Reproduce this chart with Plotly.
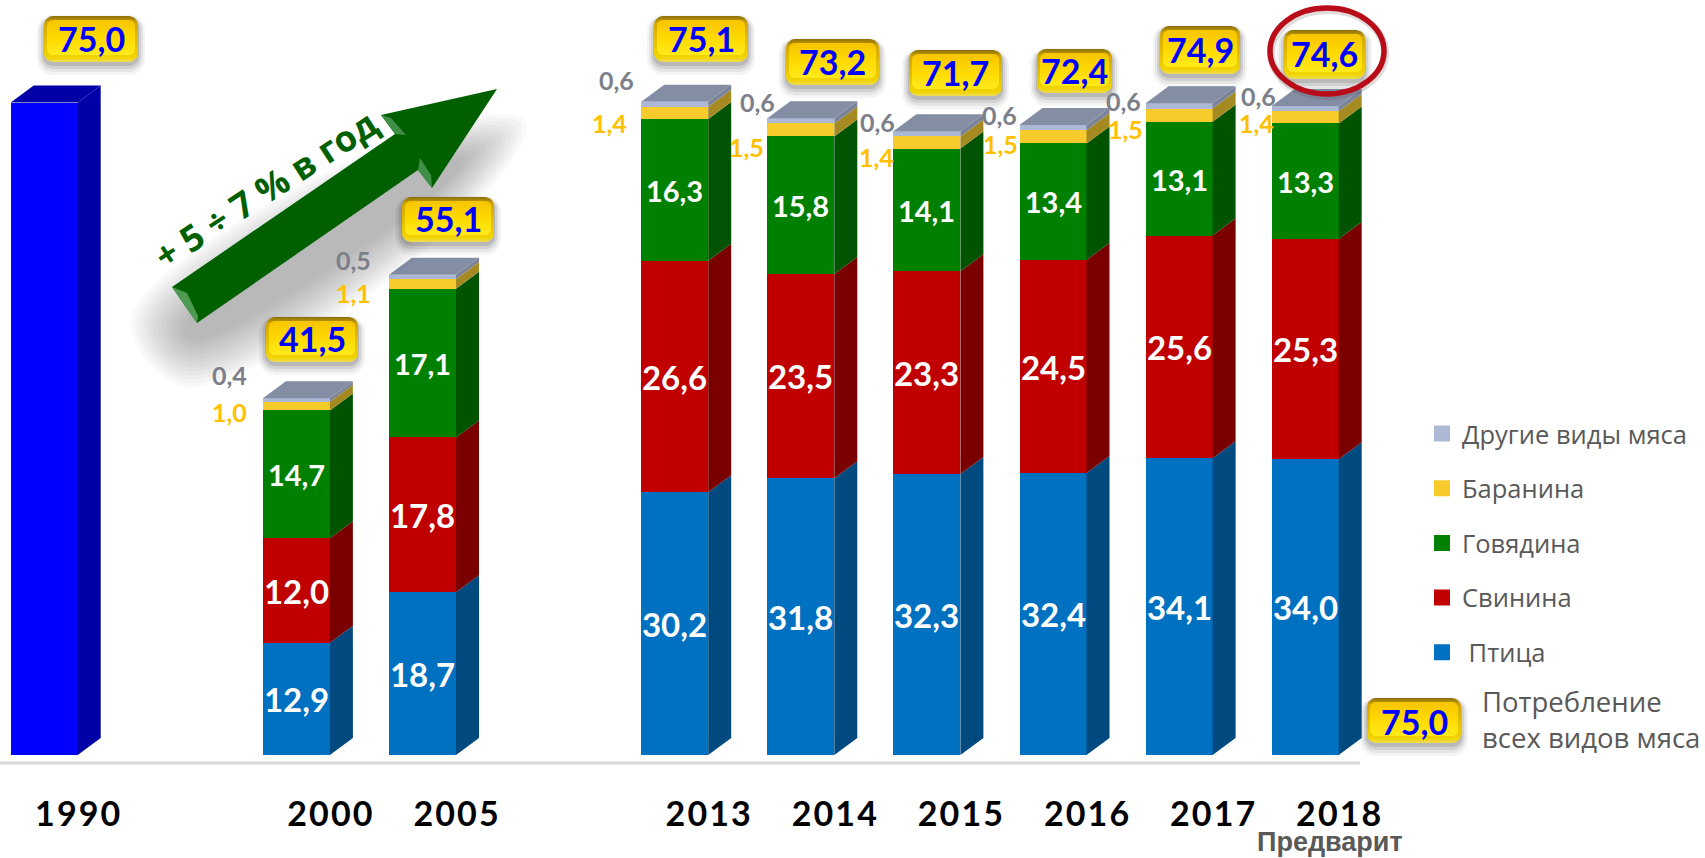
import numpy as np
import plotly.graph_objects as go

# ---------- data ----------
CATEGORIES = ["1990", "", "2000", "2005", "", "2013", "2014", "2015", "2016", "2017", "2018"]
TOTAL_1990 = [75.0]
STACK_YEARS = ["2000", "2005", "2013", "2014", "2015", "2016", "2017", "2018"]
PTITSA = [12.9, 18.7, 30.2, 31.8, 32.3, 32.4, 34.1, 34.0]
SVININA = [12.0, 17.8, 26.6, 23.5, 23.3, 24.5, 25.6, 25.3]
GOVYADINA = [14.7, 17.1, 16.3, 15.8, 14.1, 13.4, 13.1, 13.3]
BARANINA = [1.0, 1.1, 1.4, 1.5, 1.4, 1.5, 1.5, 1.4]
DRUGIE = [0.4, 0.5, 0.6, 0.6, 0.6, 0.6, 0.6, 0.6]
TOTALS = [75.0, 41.5, 55.1, 75.1, 73.2, 71.7, 72.4, 74.9, 74.6]
LEGEND_TOTAL = 75.0

SERIES = [
    ("\u00a0Птица", PTITSA, "#0070C0", "#004A7F"),
    ("Свинина", SVININA, "#C00000", "#7A0000"),
    ("Говядина", GOVYADINA, "#008000", "#005300"),
    ("Баранина", BARANINA, "#F6CB2B", "#A48A20"),
    ("Другие виды мяса", DRUGIE, "#ABB8D6", "#7A8398"),
]

# ---------- layout constants (pixels of the 1705x858 picture) ----------
W, H, PLOT_H = 1705, 858, 770
X0_PX, STEP_PX = 44.2, 126.1
BASE_PX, UNIT_PX = 755.0, 8.7
BAR_W = 67 / STEP_PX
DX = 23 / STEP_PX
DY = 17 / UNIT_PX
TOP_COLOR = "#838EA5"
NUM_FONT = "Lato, Carlito, sans-serif"
TXT_FONT = "Open Sans, Noto Sans, sans-serif"

fmt = lambda v: f"{v:.1f}".replace(".", ",")
slot = {c: i for i, c in enumerate(CATEGORIES) if c}
xs = [slot[y] for y in STACK_YEARS]

fig = go.Figure()


def poly(xv, yv, color, axes="xy", **kw):
    xa, ya = ("x", "y") if axes == "xy" else ("x2", "y2")
    fig.add_trace(go.Scatter(x=list(xv) + [xv[0]], y=list(yv) + [yv[0]], mode="lines", fill="toself",
                             fillcolor=color, line=dict(width=0, color=color), hoverinfo="skip",
                             showlegend=False, xaxis=xa, yaxis=ya, **kw))


# ---------- fronts of the bars ----------
fig.add_trace(go.Bar(x=[slot["1990"]], y=TOTAL_1990, width=BAR_W, marker=dict(color="#0000FF", line_width=0),
                     showlegend=False, hoverinfo="skip"))
for k, (name, vals, col, _) in enumerate(SERIES):
    if k < 2:
        size = 33
    elif k == 2:
        size = 29
    else:
        size = None
    kw = {}
    if size:
        kw = dict(text=[fmt(v) for v in vals], textposition="inside", insidetextanchor="middle",
                  constraintext="none", textangle=0,
                  insidetextfont=dict(family=NUM_FONT, size=size, color="white", weight="bold"))
    fig.add_trace(go.Bar(x=xs, y=vals, width=BAR_W, name=name, marker=dict(color=col, line_width=0),
                         showlegend=False, hoverinfo="skip", **kw))

# ---------- side and top faces from the same values ----------
x1990 = slot["1990"]
r = x1990 + BAR_W / 2
l = x1990 - BAR_W / 2
v = TOTAL_1990[0]
poly([r, r + DX, r + DX, r], [0, DY, v + DY, v], "#0000A6")
poly([l, l + DX, r + DX, r], [v, v + DY, v + DY, v], "#0000A6")

for j, x in enumerate(xs):
    r = x + BAR_W / 2
    l = x - BAR_W / 2
    bottom = 0.0
    for name, vals, col, side in SERIES:
        top = bottom + vals[j]
        poly([r, r + DX, r + DX, r], [bottom, bottom + DY, top + DY, top], side)
        bottom = top
    poly([l, l + DX, r + DX, r], [bottom, bottom + DY, bottom + DY, bottom], TOP_COLOR)

# ---------- legend (native), top row first ----------
for name, vals, col, _ in reversed(SERIES):
    fig.add_trace(go.Scatter(x=[None], y=[None], mode="markers", name=name, legendgroup=name,
                             marker=dict(symbol="square", size=16, color=col), showlegend=True))

# ---------- arrow ----------
ARROW_X = [172, 197, 418, 432, 497, 381, 395]
ARROW_Y = [287, 323, 170, 188, 89, 115, 134]
SHADOW_PTS = np.array([[172, 325], [192, 350], [440, 200], [478, 150], [420, 160]], dtype=float)


def offset_polygon(pts, d):
    n = len(pts)
    area = 0.5 * sum(pts[i][0] * pts[(i + 1) % n][1] - pts[(i + 1) % n][0] * pts[i][1] for i in range(n))
    sign = 1 if area > 0 else -1
    out = []
    for i in range(n):
        e1 = pts[i] - pts[i - 1]
        e2 = pts[(i + 1) % n] - pts[i]
        n1 = sign * np.array([e1[1], -e1[0]]) / np.hypot(*e1)
        n2 = sign * np.array([e2[1], -e2[0]]) / np.hypot(*e2)
        m = n1 + n2
        m = m / np.hypot(*m)
        out.append(pts[i] + m * d / max(m @ n1, 0.5))
    return np.array(out)


for d in range(28, -9, -3):
    q = offset_polygon(SHADOW_PTS, d)
    xa = q[:, 0].tolist() + [q[0, 0]]
    ya = q[:, 1].tolist() + [q[0, 1]]
    fig.add_trace(go.Scatter(x=xa, y=ya, mode="lines", fill="toself", fillcolor="rgba(50,50,50,0.032)",
                             line=dict(width=0, shape="spline", smoothing=1.0),
                             hoverinfo="skip", showlegend=False, xaxis="x2", yaxis="y2"))
poly(ARROW_X, ARROW_Y, "#006000", axes="p")
poly([172, 197, 198, 187], [287, 323, 316, 293], "#4E9A52", axes="p")
poly([381, 395, 406, 391], [115, 134, 135, 118], "#3F8F47", axes="p")
poly([418, 432, 431, 420], [170, 188, 175, 158], "#3F8F47", axes="p")


# ---------- value pills ----------
def rounded(x0, y0, x1, y1, rad=9):
    t = np.linspace(0, np.pi / 2, 8)
    px = np.concatenate([x1 - rad + rad * np.sin(t), x1 - rad + rad * np.cos(t),
                         x0 + rad - rad * np.sin(t), x0 + rad - rad * np.cos(t)])
    py = np.concatenate([y0 + rad - rad * np.cos(t), y1 - rad + rad * np.sin(t),
                         y1 - rad + rad * np.cos(t), y0 + rad - rad * np.sin(t)])
    return px.tolist() + [px[0]], py.tolist() + [py[0]]


def pill(x0, y0, x1, y1):
    for grow, dy, alpha in ((7, 6, 0.05), (5, 5, 0.07), (3, 4, 0.10), (1, 3, 0.14)):
        px, py = rounded(x0 - grow, y0 - grow + dy, x1 + grow, y1 + grow + dy, rad=9 + grow)
        fig.add_trace(go.Scatter(x=px, y=py, mode="lines", fill="toself", fillcolor=f"rgba(40,40,40,{alpha})",
                                 line_width=0, hoverinfo="skip", showlegend=False, xaxis="x2", yaxis="y2"))
    px, py = rounded(x0, y0, x1, y1)
    fig.add_trace(go.Scatter(x=px, y=py, mode="lines", fill="toself", line_width=0, hoverinfo="skip",
                             showlegend=False, xaxis="x2", yaxis="y2",
                             fillgradient=dict(type="vertical", colorscale=[
                                 [0, "#EEDD55"], [0.1, "#F2D400"], [0.85, "#D4A800"], [1, "#8A7008"]])))
    px, py = rounded(x0 + 3, y0 + 4, x1 - 3, y1 - 7, rad=6)
    fig.add_trace(go.Scatter(x=px, y=py, mode="lines", fill="toself", line_width=0, hoverinfo="skip",
                             showlegend=False, xaxis="x2", yaxis="y2",
                             fillgradient=dict(type="vertical", colorscale=[
                                 [0, "#FFEA1A"], [0.5, "#FFD900"], [1, "#F7C400"]])))


PILLS = [(44, 16, 138, 62), (266, 317, 358, 362), (402, 197, 494, 242), (654, 16, 748, 62),
         (786, 39, 879, 85), (909, 50, 1002, 96), (1037, 49, 1112, 93), (1160, 26, 1240, 74),
         (1284, 30, 1365, 79)]
annotations = []


def note(text, x, y, size, color, family=NUM_FONT, weight="bold", angle=0):
    annotations.append(dict(text=text, x=x, y=y, xref="x2", yref="y2", showarrow=False, textangle=angle,
                            xanchor="center", yanchor="middle",
                            font=dict(family=family, size=size, color=color, weight=weight)))


for box, total in zip(PILLS, TOTALS):
    pill(*box)
    note(fmt(total), (box[0] + box[2]) / 2, (box[1] + box[3]) / 2 - 1, 34, "#0000FF")
LEG_BOX = (1367, 698, 1461, 743)
pill(*LEG_BOX)
note(fmt(LEGEND_TOTAL), (LEG_BOX[0] + LEG_BOX[2]) / 2, (LEG_BOX[1] + LEG_BOX[3]) / 2 + 1, 34, "#0000FF")

# ---------- small value labels beside the bars ----------
GREY_POS = [(229.5, 375), (353, 260), (616.5, 80), (757, 102), (877.5, 122), (999, 115), (1123, 101), (1258, 96)]
GOLD_POS = [(229.5, 412), (353, 292.5), (609, 123), (746, 147), (876.5, 157), (1000, 143.5), (1125, 129), (1256, 123)]
for v, p in zip(DRUGIE, GREY_POS):
    note(fmt(v), p[0], p[1], 25, "#7C7F8A")
for v, p in zip(BARANINA, GOLD_POS):
    note(fmt(v), p[0], p[1], 25, "#FFC000")

note("+ 5 ÷ 7 % в год", 265, 189, 36, "#006000", family=TXT_FONT, angle=-33)
annotations.append(dict(text="Потребление<br>всех видов мяса", x=1480, y=719, xref="x2", yref="y2", showarrow=False,
                        align="left", xanchor="left", yanchor="middle",
                        font=dict(family=TXT_FONT, size=27.5, color="#595959")))
annotations.append(dict(text="Предварит", x=1330 / W, y=1 - 842 / PLOT_H, xref="paper", yref="paper", showarrow=False,
                        xanchor="center", yanchor="middle",
                        font=dict(family="Liberation Sans, Arial, sans-serif", size=27, color="#595959", weight="bold")))

shapes = [
    dict(type="line", xref="x2", yref="y2", x0=0, x1=1360, y0=763, y1=763, layer="below",
         line=dict(color="#D9D9D9", width=3)),
    dict(type="circle", xref="x2", yref="y2", x0=1271, x1=1385, y0=10, y1=96,
         line=dict(color="rgba(90,60,60,0.18)", width=8)),
    dict(type="circle", xref="x2", yref="y2", x0=1270, x1=1384, y0=8, y1=94,
         line=dict(color="#B80D18", width=5.5)),
]

tick_vals = [slot[c] + 33.5 / STEP_PX for c in CATEGORIES if c]
tick_text = ["\u200a".join(c) for c in CATEGORIES if c]

fig.update_layout(
    width=W, height=H, margin=dict(l=0, r=0, t=0, b=H - PLOT_H, autoexpand=False),
    paper_bgcolor="white", plot_bgcolor="rgba(0,0,0,0)", barmode="stack", bargap=0,
    hovermode=False,
    xaxis=dict(range=[(0 - X0_PX) / STEP_PX, (W - X0_PX) / STEP_PX], tickmode="array", tickvals=tick_vals,
               ticktext=tick_text, tickangle=0, showgrid=False, zeroline=False, showline=False, ticks="",
               automargin=False, ticklabelstandoff=21,
               tickfont=dict(family=NUM_FONT, size=34, color="black", weight="bold")),
    yaxis=dict(range=[(BASE_PX - PLOT_H) / UNIT_PX, BASE_PX / UNIT_PX], visible=False, showgrid=False, zeroline=False),
    xaxis2=dict(range=[0, W], overlaying="x", anchor="y2", visible=False),
    yaxis2=dict(range=[PLOT_H, 0], overlaying="y", anchor="x2", visible=False),
    legend=dict(x=1422 / W, xanchor="left", y=1 - 410.5 / PLOT_H, yanchor="top", traceorder="grouped",
                tracegroupgap=18.5, font=dict(family=TXT_FONT, size=25.5, color="#595959"),
                bgcolor="rgba(0,0,0,0)", itemclick=False, itemdoubleclick=False),
    annotations=annotations, shapes=shapes, showlegend=True,
)

fig.write_html("out.html", config=dict(displayModeBar=False),
               post_script="document.body.style.margin='0';document.body.style.overflow='hidden';")
